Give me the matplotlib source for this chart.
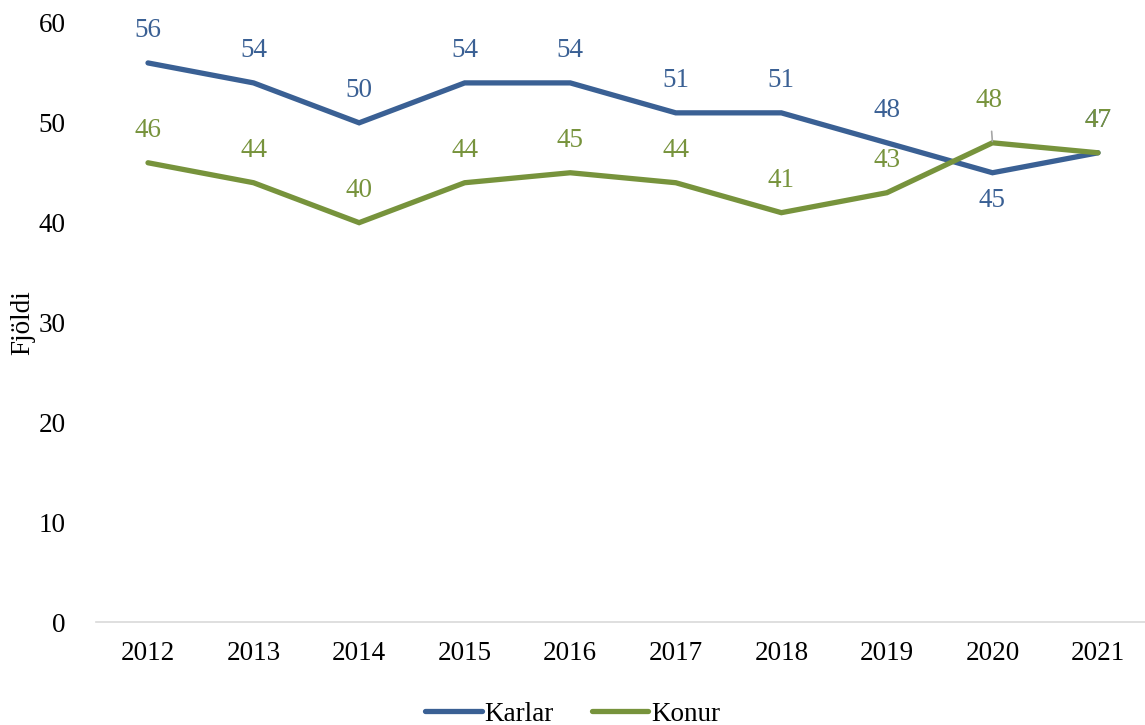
import matplotlib.pyplot as plt
import numpy as np

plt.rcParams['font.family'] = ['Liberation Serif', 'DejaVu Serif']

years = ['2012', '2013', '2014', '2015', '2016', '2017', '2018', '2019', '2020', '2021']
karlar = [56, 54, 50, 54, 54, 51, 51, 48, 45, 47]
konur = [46, 44, 40, 44, 45, 44, 41, 43, 48, 47]

blue = '#3A6094'
green = '#77933C'

fig = plt.figure(figsize=(11.45, 7.25), dpi=100)
ax = fig.add_axes([96 / 1145, 103 / 725, 1 - 96 / 1145, 599 / 725])

x = np.arange(len(years))
ax.plot(x, karlar, color=blue, lw=3.8, solid_capstyle='round', solid_joinstyle='miter', label='Karlar')
ax.plot(x, konur, color=green, lw=3.8, solid_capstyle='round', solid_joinstyle='miter', label='Konur')

fs = 19.5
for i, v in enumerate(karlar):
    dy = -28 if i == 8 else 32
    ax.annotate(str(v), (i, v), xytext=(0, dy), textcoords='offset pixels',
                ha='center', va='center', color=blue, fontsize=fs)
for i, v in enumerate(konur):
    if i == 8:
        ax.annotate(str(v), (i, v), xytext=(-3, 42), textcoords='offset pixels',
                    ha='center', va='center', color=green, fontsize=fs,
                    arrowprops=dict(arrowstyle='-', color='#A6A6A6', lw=1.2,
                                    shrinkA=11, shrinkB=1))
    else:
        ax.annotate(str(v), (i, v), xytext=(0, 32), textcoords='offset pixels',
                    ha='center', va='center', color=green, fontsize=fs)

ax.set_xlim(-0.4926, 9.445)
ax.set_ylim(0, 60)
ax.set_yticks(range(0, 61, 10))
ax.set_xticks(x)
ax.set_xticklabels(years)
ax.tick_params(length=0, labelsize=fs, pad=14)
ax.tick_params(axis='y', pad=22)
for s in ['top', 'right', 'left']:
    ax.spines[s].set_visible(False)
ax.spines['bottom'].set_color('#D9D9D9')
ax.spines['bottom'].set_linewidth(1.2)
ax.set_ylabel('Fjöldi', fontsize=fs)
ax.yaxis.set_label_coords(-0.058, 0.5)

fig.legend(loc='lower center', bbox_to_anchor=(0.5, -0.036), ncol=2, frameon=False,
           fontsize=fs, handlelength=2.1, handletextpad=0.1, columnspacing=1.4)

fig.savefig('out.png', dpi=100)
